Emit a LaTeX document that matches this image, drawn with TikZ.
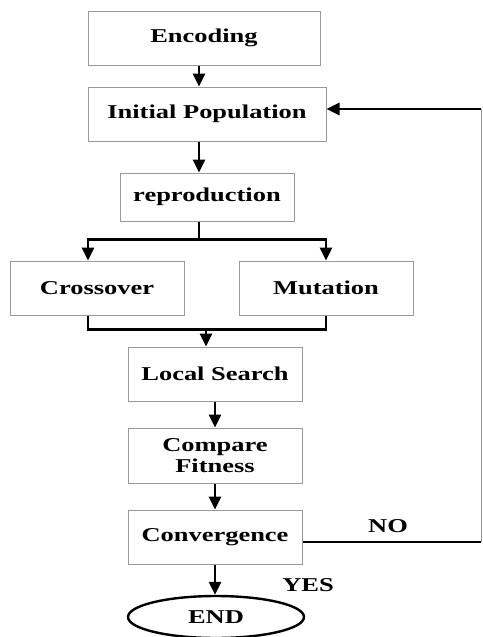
\documentclass[tikz,border=0pt]{standalone}
\usepackage{fontspec}
\setmainfont[FakeStretch=1.35]{Liberation Serif}
\usetikzlibrary{arrows.meta,shapes.geometric}

\begin{document}
\begin{tikzpicture}[x=1pt,y=-1pt,
    box/.style={draw=gray!80, line width=1pt, align=center, inner sep=0pt,
                font={\fontsize{19.6}{21}\selectfont\bfseries}},
    flow/.style={draw=black, line width=2.6pt},
    arr/.style={flow, -{Triangle[length=13pt,width=12pt]}},
    lab/.style={font={\fontsize{19.6}{21}\selectfont\bfseries}}]
        \useasboundingbox (0,0) rectangle (482,637);

        \node[box, minimum width=232pt, minimum height=54pt] (enc) at (204,38) {Encoding};
        \node[box, minimum width=238pt, minimum height=54pt] (init) at (207,114) {Initial Population};
        \node[box, minimum width=174pt, minimum height=48pt] (repro) at (207,197) {reproduction};
        \node[box, minimum width=174pt, minimum height=54pt] (cross) at (97,288) {Crossover};
        \node[box, minimum width=174pt, minimum height=54pt] (mut) at (326,288) {Mutation};
        \node[box, minimum width=174pt, minimum height=54pt] (local) at (215,374) {Local Search};
        \node[box, minimum width=174pt, minimum height=55pt] (comp) at (215,455.5) {Compare\\Fitness};
        \node[box, minimum width=174pt, minimum height=54pt] (conv) at (215,537) {Convergence};
        \node[box, ellipse, draw=black, line width=2.4pt, minimum width=176pt, minimum height=42pt] (end) at (216,617) {END};

        \coordinate (spine) at (199,0);
        \coordinate (back) at (481,0);

        \draw[arr] (enc.south -| spine) -- (init.north -| spine);
        \draw[arr] (init.south -| spine) -- (repro.north -| spine);

        % split to crossover / mutation
        \draw[flow] (repro.south -| spine) -- ++(0,18) coordinate (split);
        \draw[arr] (split) -| ([xshift=-9pt]cross.north);
        \draw[arr] (split) -| (mut.north);

        % merge into local search
        \draw[flow] ([xshift=-9pt]cross.south) -- ++(0,14) coordinate (merge) -| (mut.south);
        \coordinate (join) at (206,0);
        \draw[arr] (merge -| join) -- (local.north -| join);

        \draw[arr] (local) -- (comp);
        \draw[arr] (comp) -- (conv);
        \draw[arr] (conv) -- (conv |- end.north);

        % loop back
        \draw[flow] ([yshift=-5pt]conv.east) -- ([yshift=-5pt]conv.east -| back);
        \draw[draw=gray!80, line width=1pt] ([yshift=-5pt]conv.east -| back) -- ([yshift=5pt]init.east -| back);
        \draw[arr] ([yshift=5pt]init.east -| back) -- ([yshift=5pt]init.east);

        \node[lab] (no) at (388,526) {NO};
        \node[lab] (yes) at (308,585) {YES};
\end{tikzpicture}
\end{document}
